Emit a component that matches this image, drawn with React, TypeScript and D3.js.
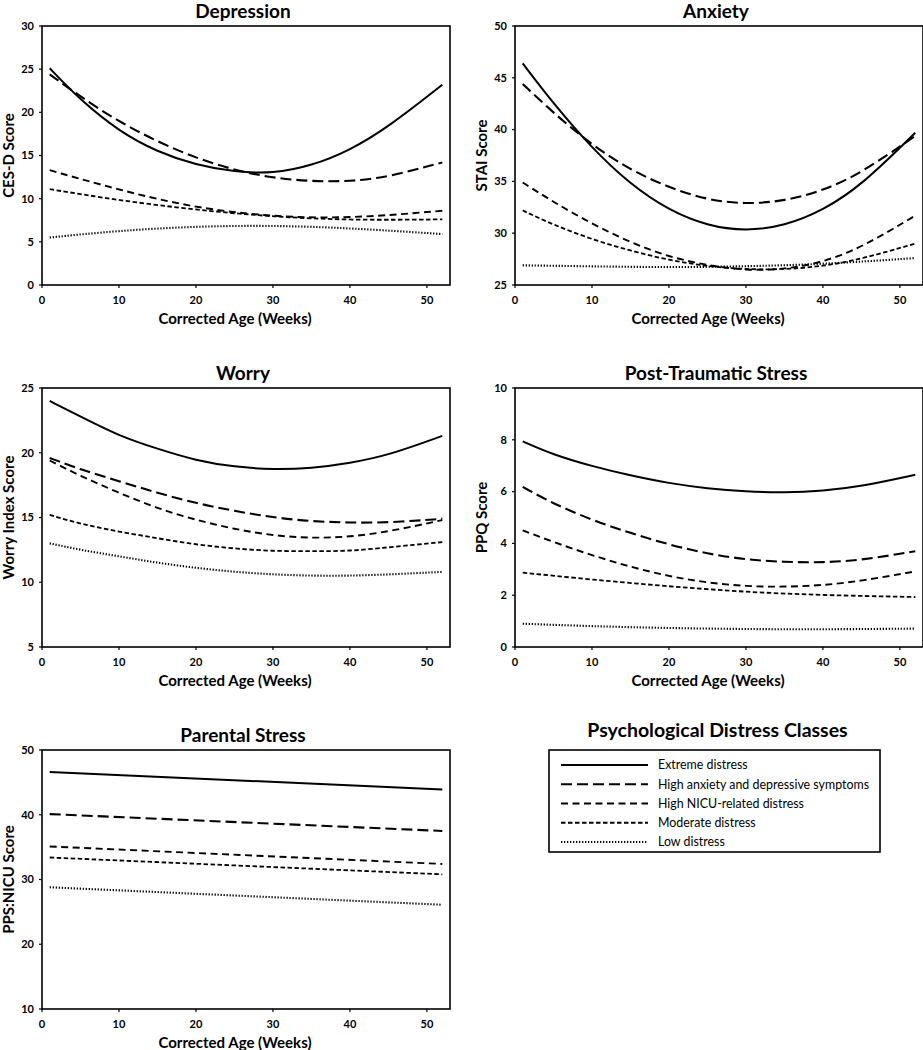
import React from "react";
import * as d3 from "d3";

// ---------- DATA ----------
const weeks = [1, 5, 10, 15, 20, 25, 30, 35, 40, 45, 52];
const weeksShort = [1, 10, 20, 30, 40, 52];
const weeksLinear = [1, 52];
const xTicks = [0, 10, 20, 30, 40, 50];

const classNames = [
  "Extreme distress",
  "High anxiety and depressive symptoms",
  "High NICU-related distress",
  "Moderate distress",
  "Low distress",
];

// Depression (CES-D)
const depExtreme = [25.1, 21.4, 17.8, 15.4, 13.9, 13.1, 12.9, 13.8, 15.6, 18.3, 23.2];
const depHigh = [24.4, 21.8, 18.9, 16.6, 14.7, 13.3, 12.4, 12.0, 12.0, 12.5, 14.2];
const depNicu = [13.3, 11.0, 8.9, 7.9, 7.7, 8.6];
const depModerate = [11.1, 9.8, 8.7, 7.9, 7.5, 7.6];
const depLow = [5.5, 6.3, 6.8, 6.9, 6.6, 5.9];
const depTicks = [0, 5, 10, 15, 20, 25, 30];

// Anxiety (STAI)
const anxExtreme = [46.4, 42.5, 38.2, 34.7, 32.2, 30.7, 30.2, 30.7, 32.2, 34.6, 39.7];
const anxHigh = [44.4, 41.6, 38.5, 36.1, 34.4, 33.2, 32.8, 33.1, 34.1, 35.8, 39.4];
const anxNicu = [34.9, 33.0, 30.9, 29.1, 27.7, 26.9, 26.4, 26.5, 27.2, 28.6, 31.7];
const anxModerate = [32.2, 30.8, 29.4, 28.3, 27.4, 26.8, 26.5, 26.5, 26.8, 27.5, 29.0];
const anxLow = [26.9, 26.8, 26.7, 26.8, 27.0, 27.6];
const anxTicks = [25, 30, 35, 40, 45, 50];

// Worry
const worExtreme = [24.0, 22.8, 21.3, 20.3, 19.4, 18.9, 18.7, 18.8, 19.2, 19.8, 21.3];
const worHigh = [19.6, 18.7, 17.8, 16.9, 16.1, 15.5, 15.0, 14.7, 14.6, 14.6, 14.9];
const worNicu = [19.4, 18.2, 16.9, 15.7, 14.8, 14.1, 13.6, 13.4, 13.5, 13.9, 14.8];
const worModerate = [15.2, 14.5, 13.9, 13.4, 12.9, 12.6, 12.4, 12.4, 12.4, 12.7, 13.1];
const worLow = [13.0, 12.5, 12.0, 11.5, 11.1, 10.8, 10.6, 10.5, 10.5, 10.6, 10.8];
const worTicks = [5, 10, 15, 20, 25];

// Post-Traumatic Stress (PPQ)
const ptsExtreme = [7.94, 7.42, 6.98, 6.62, 6.32, 6.12, 6.0, 5.96, 6.03, 6.2, 6.65];
const ptsHigh = [6.18, 5.53, 4.9, 4.4, 3.95, 3.6, 3.37, 3.28, 3.26, 3.35, 3.7];
const ptsNicu = [4.5, 4.05, 3.54, 3.09, 2.73, 2.48, 2.34, 2.32, 2.38, 2.55, 2.92];
const ptsModerate = [2.87, 2.6, 2.34, 2.12, 2.0, 1.93];
const ptsLow = [0.9, 0.8, 0.73, 0.69, 0.68, 0.71];
const ptsTicks = [0, 2, 4, 6, 8, 10];

// Parental Stress (PPS:NICU)
const parExtreme = [46.6, 43.9];
const parHigh = [40.1, 37.5];
const parNicu = [35.1, 32.4];
const parModerate = [33.4, 30.8];
const parLow = [28.8, 26.1];
const parTicks = [10, 20, 30, 40, 50];

// ---------- STYLES ----------
const lineStyles = [
  { dash: "none", width: 2 },
  { dash: "11,5", width: 2.1 },
  { dash: "7,4.5", width: 1.9 },
  { dash: "4.5,2.5", width: 1.8 },
  { dash: "1.3,1.7", width: 2.1 },
];

const FONT = "Lato, 'Open Sans', sans-serif";

type Series = { xs: number[]; ys: number[] };
type PanelDef = {
  title: string;
  yLabel: string;
  yDomain: [number, number];
  yTicks: number[];
  series: Series[];
  left: number;
  top: number;
};

const W_PLOT = 408;
const H_PLOT = 259;

const panels: PanelDef[] = [
  {
    title: "Depression",
    yLabel: "CES-D Score",
    yDomain: [0, 30],
    yTicks: depTicks,
    left: 42,
    top: 26,
    series: [
      { xs: weeks, ys: depExtreme },
      { xs: weeks, ys: depHigh },
      { xs: weeksShort, ys: depNicu },
      { xs: weeksShort, ys: depModerate },
      { xs: weeksShort, ys: depLow },
    ],
  },
  {
    title: "Anxiety",
    yLabel: "STAI Score",
    yDomain: [25, 50],
    yTicks: anxTicks,
    left: 515,
    top: 26,
    series: [
      { xs: weeks, ys: anxExtreme },
      { xs: weeks, ys: anxHigh },
      { xs: weeks, ys: anxNicu },
      { xs: weeks, ys: anxModerate },
      { xs: weeksShort, ys: anxLow },
    ],
  },
  {
    title: "Worry",
    yLabel: "Worry Index Score",
    yDomain: [5, 25],
    yTicks: worTicks,
    left: 42,
    top: 388,
    series: [
      { xs: weeks, ys: worExtreme },
      { xs: weeks, ys: worHigh },
      { xs: weeks, ys: worNicu },
      { xs: weeks, ys: worModerate },
      { xs: weeks, ys: worLow },
    ],
  },
  {
    title: "Post-Traumatic Stress",
    yLabel: "PPQ Score",
    yDomain: [0, 10],
    yTicks: ptsTicks,
    left: 515,
    top: 388,
    series: [
      { xs: weeks, ys: ptsExtreme },
      { xs: weeks, ys: ptsHigh },
      { xs: weeks, ys: ptsNicu },
      { xs: weeksShort, ys: ptsModerate },
      { xs: weeksShort, ys: ptsLow },
    ],
  },
  {
    title: "Parental Stress",
    yLabel: "PPS:NICU Score",
    yDomain: [10, 50],
    yTicks: parTicks,
    left: 42,
    top: 750,
    series: [
      { xs: weeksLinear, ys: parExtreme },
      { xs: weeksLinear, ys: parHigh },
      { xs: weeksLinear, ys: parNicu },
      { xs: weeksLinear, ys: parModerate },
      { xs: weeksLinear, ys: parLow },
    ],
  },
];

function Panel({ p }: { p: PanelDef }) {
  const x = d3.scaleLinear().domain([0, 53]).range([0, W_PLOT]);
  const y = d3.scaleLinear().domain(p.yDomain).range([H_PLOT, 0]);
  const line = d3
    .line<[number, number]>()
    .x((d) => x(d[0]))
    .y((d) => y(d[1]))
    .curve(d3.curveBasis);
  return (
    <g transform={`translate(${p.left},${p.top})`}>
      <text
        x={W_PLOT / 2 - 3}
        y={-8}
        textAnchor="middle"
        fontFamily={FONT}
        fontWeight="bold"
        fontSize={19}
      >
        {p.title}
      </text>
      {p.series.map((s, i) => (
        <path
          key={i}
          d={line(s.xs.map((xv, j) => [xv, s.ys[j]] as [number, number])) || ""}
          fill="none"
          stroke="#000"
          strokeWidth={lineStyles[i].width}
          strokeDasharray={lineStyles[i].dash}
        />
      ))}
      <rect x={0} y={0} width={W_PLOT} height={H_PLOT} fill="none" stroke="#000" strokeWidth={1.6} />
      {p.yTicks.map((t) => (
        <g key={t} transform={`translate(0,${y(t)})`}>
          <line x1={-3} x2={0} stroke="#000" strokeWidth={1.2} />
          <text
            x={-8}
            dy="0.35em"
            textAnchor="end"
            fontFamily={FONT}
            fontWeight="bold"
            fontSize={11}
          >
            {t}
          </text>
        </g>
      ))}
      {xTicks.map((t) => (
        <g key={t} transform={`translate(${x(t)},${H_PLOT})`}>
          <line y1={0} y2={3} stroke="#000" strokeWidth={1.2} />
          <text
            y={19}
            textAnchor="middle"
            fontFamily={FONT}
            fontWeight="bold"
            fontSize={11}
          >
            {t}
          </text>
        </g>
      ))}
      <text
        x={W_PLOT / 2 - 11}
        y={H_PLOT + 39}
        textAnchor="middle"
        fontFamily={FONT}
        fontWeight="bold"
        fontSize={15}
      >
        Corrected Age (Weeks)
      </text>
      <text
        transform={`translate(${-28},${H_PLOT / 2}) rotate(-90)`}
        textAnchor="middle"
        fontFamily={FONT}
        fontWeight="bold"
        fontSize={15}
      >
        {p.yLabel}
      </text>
    </g>
  );
}

function Legend() {
  const left = 549;
  const top = 750;
  const w = 331;
  const h = 102;
  const rowY = d3.scaleLinear().domain([0, 4]).range([15, 92]);
  return (
    <g>
      <text
        x={left + w / 2 + 3}
        y={top - 13}
        textAnchor="middle"
        fontFamily={FONT}
        fontWeight="bold"
        fontSize={19.5}
      >
        Psychological Distress Classes
      </text>
      <rect x={left} y={top} width={w} height={h} fill="none" stroke="#000" strokeWidth={1.6} />
      {classNames.map((name, i) => (
        <g key={name} transform={`translate(${left},${top + rowY(i)})`}>
          <line
            x1={12}
            x2={99}
            stroke="#000"
            strokeWidth={lineStyles[i].width}
            strokeDasharray={lineStyles[i].dash}
          />
          <text x={109} dy="0.35em" fontFamily={FONT} fontSize={12.4}>
            {name}
          </text>
        </g>
      ))}
    </g>
  );
}

export default function App() {
  return (
    <svg
      width={923}
      height={1050}
      style={{ position: "absolute", left: 0, top: 0, background: "#fff" }}
    >
      <rect width={923} height={1050} fill="#fff" />
      {panels.map((p) => (
        <Panel key={p.title} p={p} />
      ))}
      <Legend />
    </svg>
  );
}
